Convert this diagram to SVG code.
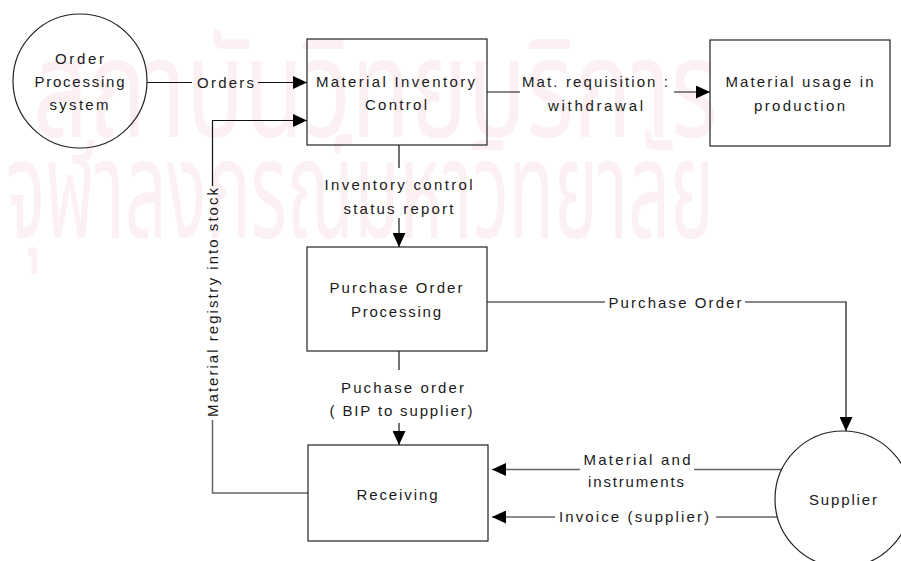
<svg xmlns="http://www.w3.org/2000/svg" width="901" height="561" viewBox="0 0 901 561">
  <defs>
    <marker id="arrow" markerUnits="userSpaceOnUse" markerWidth="14" markerHeight="13" refX="14" refY="6.5" orient="auto">
      <path d="M0,0 L14,6.5 L0,13 z" fill="#000"/>
    </marker>
  </defs>
  <style>
    .wm { font-family: "Noto Sans Thai", "Noto Serif Thai", "Loma", "Garuda", "Tlwg Typo", "DejaVu Sans", sans-serif; font-size: 138px; fill: #fcf0f3; }
    .lbl { font-family: "Liberation Sans", Arial, sans-serif; font-size: 15px; fill: #1a1a1a; text-anchor: middle; }
    .shape { fill: none; stroke: #222; stroke-width: 1.2; }
    .line { fill: none; stroke: #111; stroke-width: 1.2; }
    .line.grey { stroke: #666; stroke-width: 1.5; }
  </style>

  <rect width="901" height="561" fill="#fff"/>

  <!-- background watermark -->
  <g id="watermark">
    <text class="wm" x="33" y="137" textLength="685" lengthAdjust="spacingAndGlyphs">สถาบันวิทยบริการ</text>
    <text class="wm" x="6" y="238" textLength="708" lengthAdjust="spacingAndGlyphs">จุฬาลงกรณ์มหาวิทยาลัย</text>
  </g>

  <!-- connectors -->
  <g id="connectors">
    <!-- Orders -->
    <line class="line" x1="147" y1="82.5" x2="192" y2="82.5"/>
    <line class="line" x1="258" y1="82.5" x2="307" y2="82.5" marker-end="url(#arrow)"/>
    <text class="lbl" x="225.5" y="87.5" textLength="57" lengthAdjust="spacing">Orders</text>

    <!-- Material registry into stock -->
    <path class="line grey" d="M308,493 H212.5 V420"/>
    <path class="line" d="M212.5,186 V120.5 H307" marker-end="url(#arrow)"/>
    <text class="lbl" transform="translate(217.5,302.5) rotate(-90)" x="0" y="0" textLength="229" lengthAdjust="spacing">Material  registry into stock</text>

    <!-- Mat. requisition : withdrawal -->
    <line class="line" x1="487" y1="92" x2="520" y2="92"/>
    <line class="line" x1="674" y1="92" x2="710" y2="92" marker-end="url(#arrow)"/>
    <text class="lbl" x="595" y="87" textLength="146" lengthAdjust="spacing">Mat. requisition :</text>
    <text class="lbl" x="595.5" y="110.5" textLength="95" lengthAdjust="spacing">withdrawal</text>

    <!-- Inventory control status report -->
    <line class="line" x1="399" y1="145" x2="399" y2="168"/>
    <line class="line" x1="399" y1="218" x2="399" y2="247" marker-end="url(#arrow)"/>
    <text class="lbl" x="398.5" y="190" textLength="148" lengthAdjust="spacing">Inventory control</text>
    <text class="lbl" x="398.5" y="214" textLength="110" lengthAdjust="spacing">status report</text>

    <!-- Puchase order (BIP to supplier) -->
    <line class="line" x1="399" y1="351" x2="399" y2="370"/>
    <line class="line" x1="399" y1="423" x2="399" y2="445" marker-end="url(#arrow)"/>
    <text class="lbl" x="402.5" y="392.5" textLength="123" lengthAdjust="spacing">Puchase order</text>
    <text class="lbl" x="401" y="415.5" textLength="143" lengthAdjust="spacing">( BIP to supplier)</text>

    <!-- Purchase Order to supplier -->
    <line class="line" x1="487" y1="302" x2="605" y2="302"/>
    <path class="line" d="M745,302 H846 V431" marker-end="url(#arrow)"/>
    <text class="lbl" x="675" y="307.5" textLength="133" lengthAdjust="spacing">Purchase Order</text>

    <!-- Material and instruments -->
    <line class="line grey" x1="782" y1="469.5" x2="694" y2="469.5"/>
    <line class="line grey" x1="580" y1="469.5" x2="492" y2="469.5" marker-end="url(#arrow)"/>
    <text class="lbl" x="637" y="465" textLength="107" lengthAdjust="spacing">Material and</text>
    <text class="lbl" x="636" y="487" textLength="96" lengthAdjust="spacing">instruments</text>

    <!-- Invoice (supplier) -->
    <line class="line grey" x1="777" y1="517" x2="716" y2="517"/>
    <line class="line grey" x1="555" y1="517" x2="492" y2="517" marker-end="url(#arrow)"/>
    <text class="lbl" x="634" y="522" textLength="150" lengthAdjust="spacing">Invoice (supplier)</text>
  </g>

  <!-- nodes -->
  <g id="order-processing">
    <circle class="shape" cx="80" cy="81" r="67"/>
    <text class="lbl" x="79.5" y="63.5" textLength="49" lengthAdjust="spacing">Order</text>
    <text class="lbl" x="79.5" y="87" textLength="90" lengthAdjust="spacing">Processing</text>
    <text class="lbl" x="79" y="110" textLength="59" lengthAdjust="spacing">system</text>
  </g>

  <g id="material-inventory">
    <rect class="shape" x="307" y="39" width="180" height="106"/>
    <text class="lbl" x="395.5" y="86.5" textLength="159" lengthAdjust="spacing">Material Inventory</text>
    <text class="lbl" x="396" y="109.5" textLength="62" lengthAdjust="spacing">Control</text>
  </g>

  <g id="material-usage">
    <rect class="shape" x="710" y="40" width="180" height="106"/>
    <text class="lbl" x="799.5" y="87" textLength="148" lengthAdjust="spacing">Material usage in</text>
    <text class="lbl" x="799.5" y="110.5" textLength="91" lengthAdjust="spacing">production</text>
  </g>

  <g id="purchase-order-processing">
    <rect class="shape" x="307" y="247" width="180" height="104"/>
    <text class="lbl" x="396" y="292.5" textLength="133" lengthAdjust="spacing">Purchase Order</text>
    <text class="lbl" x="396" y="316.5" textLength="90" lengthAdjust="spacing">Processing</text>
  </g>

  <g id="receiving">
    <rect class="shape" x="308" y="445" width="180" height="96"/>
    <text class="lbl" x="397" y="500" textLength="81" lengthAdjust="spacing">Receiving</text>
  </g>

  <g id="supplier">
    <circle class="shape" cx="843" cy="499" r="68"/>
    <text class="lbl" x="843" y="505" textLength="68" lengthAdjust="spacing">Supplier</text>
  </g>
</svg>
